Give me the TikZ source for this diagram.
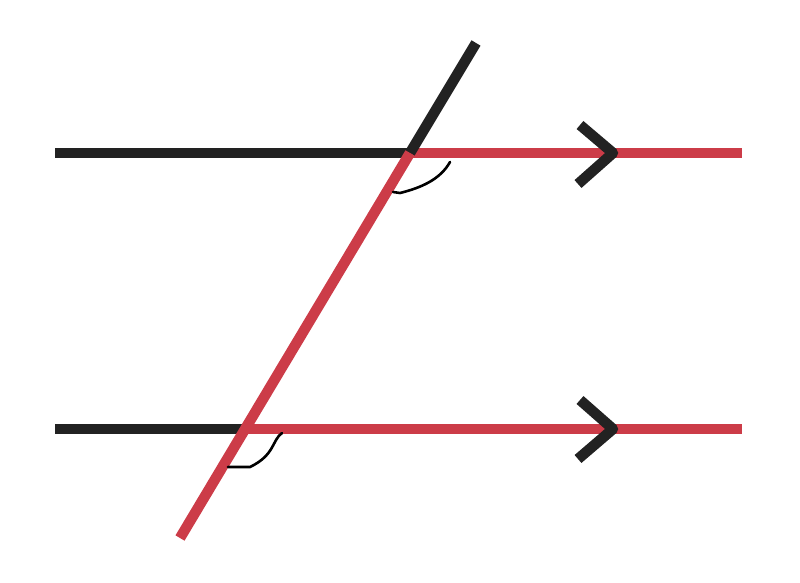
\documentclass[tikz,border=0pt]{standalone}
\definecolor{linered}{RGB}{204,60,72}
\definecolor{lineblack}{RGB}{34,34,34}
\begin{document}
\begin{tikzpicture}[x=1pt,y=-1pt]
    \useasboundingbox (0,0) rectangle (800,583);
    \coordinate (P) at (410,153);
    \coordinate (Q) at (245,429);
    \coordinate (T) at (476,43);
    \coordinate (B) at (180,538);

\draw[lineblack, line width=10.5pt] (55,153) -- (P);
\draw[lineblack, line width=10.5pt] (55,429) -- (Q);
\draw[linered, line width=10.5pt] (P) -- (742,153);
\draw[linered, line width=10.5pt] (Q) -- (742,429);
\draw[lineblack, line width=10.5pt] (P) -- (T);
\draw[linered, line width=10.5pt] (B) -- (P);

% arrow marks
\draw[lineblack, line width=10.5pt, line join=round] (580,125) -- (613,153) -- (578,184);
\draw[lineblack, line width=10.5pt, line join=round] (580,400) -- (613,429) -- (578,459);

% angle marks
\draw[black, line width=2.6pt, line cap=round] (450,162) .. controls (440,180) and (420,188) .. (400,193) -- (393,192);
\draw[black, line width=2.6pt, line cap=round] (282,433) .. controls (272,440) and (275,455) .. (250,467) -- (228,467);

\end{tikzpicture}
\end{document}
